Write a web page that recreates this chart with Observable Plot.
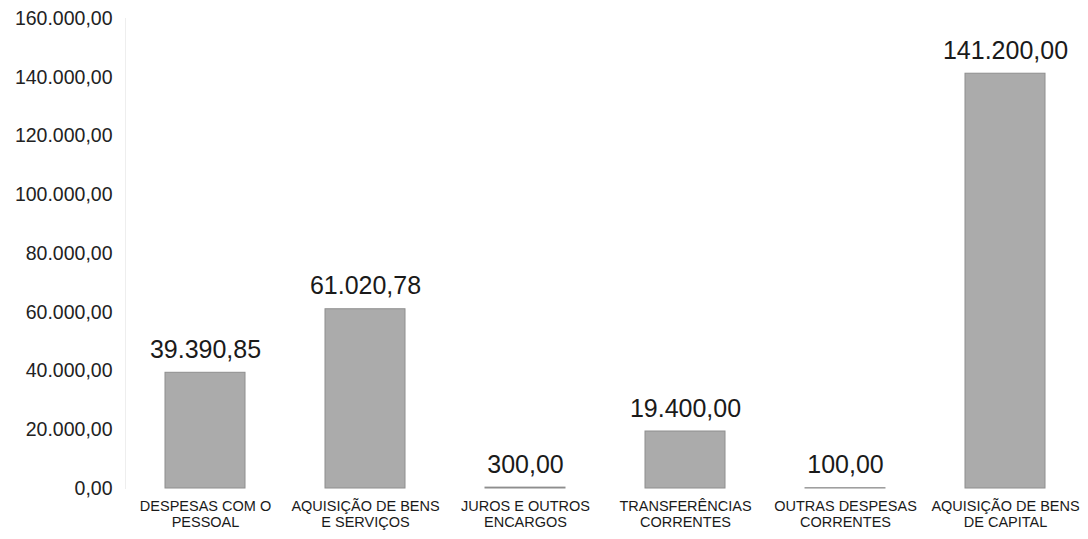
<!DOCTYPE html>
<html>
<head>
<meta charset="utf-8">
<script src="https://cdn.jsdelivr.net/npm/d3@7"></script>
<script src="https://cdn.jsdelivr.net/npm/@observablehq/plot@0.6"></script>
<style>
  html, body { margin: 0; padding: 0; background: #fff; }
  #chart { width: 1088px; height: 539px; }
</style>
</head>
<body>
<div id="chart"></div>
<script>
const categories = [
  "DESPESAS COM O\nPESSOAL",
  "AQUISIÇÃO DE BENS\nE SERVIÇOS",
  "JUROS E OUTROS\nENCARGOS",
  "TRANSFERÊNCIAS\nCORRENTES",
  "OUTRAS DESPESAS\nCORRENTES",
  "AQUISIÇÃO DE BENS\nDE CAPITAL"
];
const values = [39390.85, 61020.78, 300, 19400, 100, 141200];
const yTicks = [0, 20000, 40000, 60000, 80000, 100000, 120000, 140000, 160000];

const locale = d3.formatLocale({decimal: ",", thousands: ".", grouping: [3], currency: ["R$ ", ""]});
const fmt = locale.format(",.2f");

const data = categories.map((c, i) => ({cat: c, value: values[i]}));

const chart = Plot.plot({
  width: 1088,
  height: 539,
  marginLeft: 125,
  marginRight: 3,
  marginTop: 18,
  marginBottom: 51,
  style: {fontFamily: "'Liberation Sans', Arial, sans-serif", color: "#1a1a1a", background: "#fff"},
  x: {domain: categories, paddingInner: 0.5, paddingOuter: 0.25, label: null},
  y: {domain: [0, 160000], label: null},
  marks: [
    Plot.frame({anchor: "left", stroke: "#eeeeee"}),
    Plot.barY(data, {x: "cat", y: "value", fill: "#ababab", stroke: "#8e8e8e", strokeWidth: 1}),
    Plot.text(data, {x: "cat", y: "value", text: d => fmt(d.value), dy: -23, fontSize: 25, fill: "#1a1a1a"}),
    Plot.axisY(yTicks, {tickFormat: fmt, tickSize: 0, tickPadding: 13, fontSize: 19.5, fill: "#222"}),
    Plot.axisX({tickSize: 0, tickPadding: 11, fontSize: 14.5, lineHeight: 1.1, fill: "#1a1a1a"})
  ]
});
document.getElementById("chart").appendChild(chart);
</script>
</body>
</html>
